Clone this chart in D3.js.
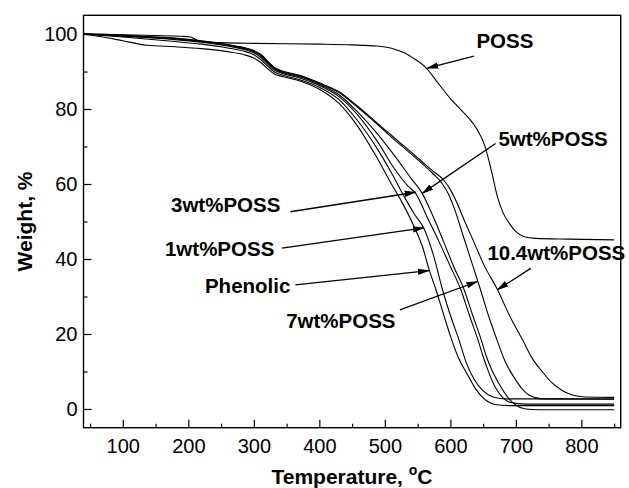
<!DOCTYPE html>
<html>
<head>
<meta charset="utf-8">
<script src="https://cdn.jsdelivr.net/npm/d3@7"></script>
<style>
  body { margin: 0; background: #fff; }
  svg { display: block; font-family: "Liberation Sans", Arial, Helvetica, sans-serif; }
  .tick text { font-size: 20px; fill: #000; }
  .tick line { stroke: #000; stroke-width: 1.2; }
  .curve { fill: none; stroke: #000; stroke-width: 1.1; }
  .note { font-size: 20.5px; font-weight: bold; }
</style>
</head>
<body>
<svg id="chart" width="629" height="488"></svg>
<script>
// TGA curves: temperature (°C) vs weight (%)
const poss = [[40,100],[100,99.8],[150,99.6],[190,99.4],[203,99.2],[212,98.5],[223,97.9],[250,97.7],[300,97.5],[400,97.3],[450,97.1],[488,96.8],[505,96.4],[519,95.7],[532,94.8],[544,93.5],[555,92.2],[565,90.6],[580,87.2],[600,82.8],[615,80],[628,77.6],[641,74.5],[652,70.5],[662,64],[672,56.5],[680,52.5],[690,49.5],[700,47.3],[712,46],[730,45.5],[780,45.3],[850,45.1]];

const phenolic = [[40,100],[70,99.2],[100,98.2],[137,97.0],[180,96.6],[220,96.1],[260,95.3],[285,94.5],[300,93.6],[312,92.2],[322,90.6],[332,89.3],[345,88.6],[370,87.5],[400,85.3],[430,81.5],[458,75.5],[488,67],[510,60],[525,55.5],[545,48.5],[558,43],[567,37.5],[578,31.8],[590,25],[600,19.5],[612,13.8],[626,9.2],[638,5.5],[652,2.6],[668,1.2],[690,0.9],[850,0.9]];

const poss1 = [[40,100],[70,99.6],[100,99.2],[140,98.6],[180,98.0],[220,97.3],[260,96.3],[285,95.4],[300,94.5],[312,93],[322,91.3],[332,89.8],[345,89],[370,87.8],[400,85.8],[430,82.5],[458,77],[488,69.5],[510,63],[530,56.5],[545,52],[560,48],[575,40.5],[588,31.8],[600,25],[613,18.5],[624,12.5],[636,8],[650,4.8],[665,3.2],[685,2.7],[850,2.7]];

const poss3 = [[40,100],[70,99.7],[100,99.4],[140,99.0],[180,98.5],[220,97.8],[260,96.8],[285,95.9],[300,95],[312,93.6],[322,91.8],[332,90.3],[345,89.4],[370,88.3],[400,86.3],[430,83.3],[458,78.5],[488,71.5],[515,64],[535,59.5],[547,57.5],[565,51],[583,44.5],[600,38],[616,31.8],[629,25],[642,18.5],[650,14],[657,10.5],[668,6],[680,3],[692,1.7],[715,1.3],[850,1.3]];

const poss5 = [[40,100],[70,99.8],[100,99.5],[140,99.1],[180,98.7],[220,98.0],[260,97.0],[285,96.1],[300,95.3],[312,94],[322,92.2],[332,90.6],[345,89.7],[370,88.6],[400,86.6],[430,83.8],[458,79.3],[488,73.5],[515,67.5],[540,61.5],[557,57.5],[572,52],[590,44.5],[605,38],[621,31.8],[634,25],[647,18.5],[655,14],[663,10.5],[675,6.5],[688,3],[700,1],[715,0],[735,-0.2],[850,-0.2]];

const poss7 = [[40,100],[70,99.8],[100,99.6],[140,99.2],[180,98.8],[220,98.1],[260,97.1],[285,96.3],[300,95.5],[312,94.2],[322,92.4],[332,90.8],[345,89.9],[370,88.8],[400,86.8],[430,84.4],[458,80.5],[488,76],[510,72.5],[530,69.5],[550,66.5],[572,63],[588,60],[598,57],[608,52.5],[618,47],[630,40.5],[646,31.8],[658,25],[671,18.5],[684,12.5],[697,8.5],[710,5.3],[722,3.5],[740,2.7],[850,2.6]];

const poss104 = [[40,100],[70,99.9],[100,99.7],[140,99.3],[180,98.9],[220,98.2],[260,97.2],[285,96.4],[300,95.6],[312,94.4],[322,92.6],[332,91],[345,90.1],[370,89],[400,87],[430,84.6],[458,80.8],[488,76.3],[510,73],[530,70],[550,67],[573,63.5],[590,61],[600,58.5],[610,55],[622,50],[636,44.5],[651,38.5],[672,31.8],[690,25],[710,18.5],[725,13.5],[740,10],[755,7],[770,5],[785,3.8],[805,3.2],[850,3.1]];

const seriesList = [poss, phenolic, poss1, poss3, poss5, poss7, poss104];

// annotation labels: text, anchor point (T, W), text-anchor
const noteText = ['POSS', '5wt%POSS', '3wt%POSS', '1wt%POSS', 'Phenolic', '7wt%POSS', '10.4wt%POSS'];
const noteAt = [[639.7, 96.2], [673.3, 70.2], [340.5, 52.5], [331.3, 40.9], [355.8, 31], [516.3, 21.6], [656.5, 39.6]];
const noteAnchor = ['start', 'start', 'end', 'end', 'end', 'end', 'start'];
// arrows: [from, to] in data units
const arrows = [
  [[636, 94.1], [564.8, 90.9]],
  [[669, 70.8], [557, 57.5]],
  [[355.7, 52.6], [547, 57.8]],
  [[343, 42.9], [559.6, 48.3]],
  [[363.4, 33.1], [567.2, 36.9]],
  [[522.9, 26.4], [641.2, 34]],
  [[722.7, 37.5], [671.8, 31.8]]
];

const xTicks = [100, 200, 300, 400, 500, 600, 700, 800];
const xMinor = [50, 150, 250, 350, 450, 550, 650, 750, 850];
const yTicks = [0, 20, 40, 60, 80, 100];
const yMinor = [10, 30, 50, 70, 90];

const svg = d3.select('#chart');
const plotLeft = 83.5, plotRight = 620.7, plotTop = 15.3, plotBottom = 427.7;

const x = d3.scaleLinear().domain([40, 860]).range([plotLeft, plotRight]);
const y = d3.scaleLinear().domain([-5, 105]).range([plotBottom, plotTop]);

// axes with inward ticks
const gx = svg.append('g').attr('transform', `translate(0,${plotBottom})`)
  .call(d3.axisBottom(x).tickValues(xTicks).tickSizeInner(-8).tickSizeOuter(0).tickPadding(11));
const gxm = svg.append('g').attr('transform', `translate(0,${plotBottom})`)
  .call(d3.axisBottom(x).tickValues(xMinor).tickSizeInner(-4).tickSizeOuter(0).tickFormat(''));
const gy = svg.append('g').attr('transform', `translate(${plotLeft},0)`)
  .call(d3.axisLeft(y).tickValues(yTicks).tickSizeInner(-8).tickSizeOuter(0).tickPadding(6));
const gym = svg.append('g').attr('transform', `translate(${plotLeft},0)`)
  .call(d3.axisLeft(y).tickValues(yMinor).tickSizeInner(-4).tickSizeOuter(0).tickFormat(''));
[gx, gxm, gy, gym].forEach(g => { g.select('.domain').remove(); g.attr('font-family', null).attr('font-size', null); });

svg.append('rect')
  .attr('x', plotLeft).attr('y', plotTop)
  .attr('width', plotRight - plotLeft).attr('height', plotBottom - plotTop)
  .attr('fill', 'none').attr('stroke', '#000').attr('stroke-width', 1.4);

const line = d3.line()
  .x(d => x(d[0]))
  .y(d => y(d[1]))
  .curve(d3.curveMonotoneX);

svg.selectAll('.curve')
  .data(seriesList)
  .enter()
  .append('path')
  .attr('class', 'curve')
  .attr('d', line);

// arrowhead
svg.append('defs').append('marker')
  .attr('id', 'head')
  .attr('markerUnits', 'userSpaceOnUse')
  .attr('markerWidth', 12).attr('markerHeight', 8)
  .attr('refX', 11).attr('refY', 4)
  .attr('orient', 'auto')
  .append('path').attr('d', 'M0,0.8 L12,4 L0,7.2 Z').attr('fill', '#000');

svg.selectAll('.arrow')
  .data(arrows)
  .enter()
  .append('line')
  .attr('class', 'arrow')
  .attr('x1', d => x(d[0][0])).attr('y1', d => y(d[0][1]))
  .attr('x2', d => x(d[1][0])).attr('y2', d => y(d[1][1]))
  .attr('stroke', '#000').attr('stroke-width', 1.3)
  .attr('marker-end', 'url(#head)');

svg.selectAll('.note')
  .data(noteText)
  .enter()
  .append('text')
  .attr('class', 'note')
  .attr('x', (d, i) => x(noteAt[i][0]))
  .attr('y', (d, i) => y(noteAt[i][1]))
  .attr('text-anchor', (d, i) => noteAnchor[i])
  .text(d => d);

// axis titles
const xt = svg.append('text')
  .attr('x', 352).attr('y', 484)
  .attr('text-anchor', 'middle')
  .attr('font-size', 21).attr('font-weight', 'bold')
  .text('Temperature, ');
xt.append('tspan').attr('font-size', 14).attr('dy', -9).text('o');
xt.append('tspan').attr('dy', 9).text('C');

svg.append('text')
  .attr('transform', 'translate(32,221.5) rotate(-90)')
  .attr('text-anchor', 'middle')
  .attr('font-size', 21).attr('font-weight', 'bold')
  .text('Weight, %');
</script>
</body>
</html>
